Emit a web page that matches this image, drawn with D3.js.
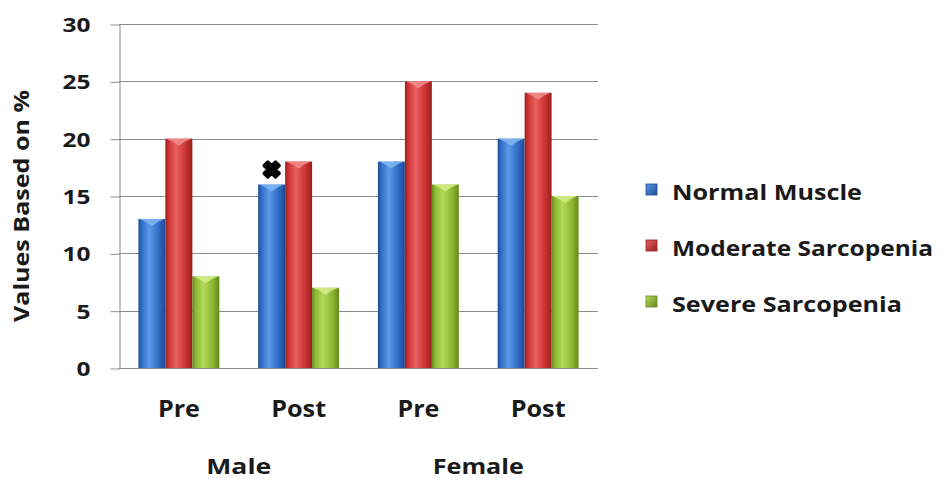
<!DOCTYPE html>
<html>
<head>
<meta charset="utf-8">
<script src="https://cdn.jsdelivr.net/npm/d3@7"></script>
<style>
  html, body { margin: 0; padding: 0; background: #fff; }
  svg { display: block; }
  text { font-family: "Open Sans", "Liberation Sans", sans-serif; font-weight: 700; fill: #1a1a1a; }
</style>
</head>
<body>
<svg id="chart" width="946" height="479"></svg>
<script>
// Chart data
const categories = ["Pre", "Post", "Pre", "Post"];
const groups = ["Male", "Female"];
const seriesNames = ["Normal Muscle", "Moderate Sarcopenia", "Severe Sarcopenia"];
const normalMuscle = [13, 16, 18, 20];
const moderateSarcopenia = [20, 18, 25, 24];
const severeSarcopenia = [8, 7, 16, 15];
const yTicks = [0, 5, 10, 15, 20, 25, 30];
const markedPoint = { series: 0, category: 1 }; // starred bar: Male / Post, Normal Muscle

const seriesValues = [normalMuscle, moderateSarcopenia, severeSarcopenia];
const colors = [
  { base: "#2f6cc4", light: "#5d9ae8", dark: "#1d4c94", cap: "#7fb4f4" },
  { base: "#cc3333", light: "#e86060", dark: "#962020", cap: "#f08a8a" },
  { base: "#8cb832", light: "#b2d95a", dark: "#66881e", cap: "#d2ec86" }
];

const svg = d3.select("#chart");
const plot = { left: 119, right: 598, top: 24, bottom: 368 };

const x0 = d3.scaleBand().domain(d3.range(categories.length))
  .range([plot.left, plot.right]).paddingInner(0).paddingOuter(0);
const x1 = d3.scaleBand().domain(d3.range(seriesNames.length))
  .range([0, x0.bandwidth()]).paddingInner(0).paddingOuter(0.72);
const y = d3.scaleLinear().domain([0, 30]).range([plot.bottom, plot.top]);

// Gradients for the rounded glossy bars
const defs = svg.append("defs");
colors.forEach((c, i) => {
  const g = defs.append("linearGradient").attr("id", "grad" + i)
    .attr("x1", "0%").attr("x2", "100%").attr("y1", "0%").attr("y2", "0%");
  g.append("stop").attr("offset", "0%").attr("stop-color", c.dark);
  g.append("stop").attr("offset", "12%").attr("stop-color", c.base);
  g.append("stop").attr("offset", "40%").attr("stop-color", c.light);
  g.append("stop").attr("offset", "75%").attr("stop-color", c.base);
  g.append("stop").attr("offset", "100%").attr("stop-color", c.dark);
  const lg = defs.append("linearGradient").attr("id", "lgrad" + i)
    .attr("x1", "0%").attr("x2", "100%").attr("y1", "0%").attr("y2", "100%");
  lg.append("stop").attr("offset", "0%").attr("stop-color", c.light);
  lg.append("stop").attr("offset", "100%").attr("stop-color", c.dark);
});

// Gridlines
svg.append("g").selectAll("line").data(yTicks.filter(d => d > 0)).join("line")
  .attr("x1", plot.left).attr("x2", plot.right)
  .attr("y1", d => Math.round(y(d)) + 0.5).attr("y2", d => Math.round(y(d)) + 0.5)
  .attr("stroke", "#8c8c8c").attr("stroke-width", 1);

// Y axis
const yAxis = svg.append("g").attr("transform", `translate(${plot.left + 0.5},0.5)`)
  .call(d3.axisLeft(y).tickValues(yTicks).tickSize(9).tickPadding(20).tickSizeOuter(0));
yAxis.select(".domain").attr("stroke", "#8c8c8c");
yAxis.selectAll(".tick line").attr("stroke", "#8c8c8c");
yAxis.selectAll(".tick text")
  .attr("font-size", 19).attr("fill", "#1a1a1a")
  .attr("dy", "0.36em")
  .attr("textLength", d => String(d).length * 14)
  .attr("lengthAdjust", "spacingAndGlyphs");

// Bars
const barData = [];
seriesValues.forEach((vals, s) => vals.forEach((v, c) => barData.push({ s, c, v })));

const bars = svg.append("g").selectAll("g").data(barData).join("g")
  .attr("transform", d => `translate(${x0(d.c) + x1(d.s)},0)`);
const bw = x1.bandwidth();
bars.append("rect")
  .attr("x", 0).attr("width", bw)
  .attr("y", d => y(d.v)).attr("height", d => y(0) - y(d.v))
  .attr("fill", d => `url(#grad${d.s})`);
// top cap with pointed highlight
bars.append("path")
  .attr("d", d => {
    const t = y(d.v);
    return `M1,${t} L${bw - 1},${t} L${bw * 0.72},${t + 3} L${bw / 2},${t + 7} L${bw * 0.28},${t + 3} Z`;
  })
  .attr("fill", d => colors[d.s].cap).attr("opacity", 0.9);

// X axis baseline
svg.append("line")
  .attr("x1", plot.left).attr("x2", plot.right)
  .attr("y1", y(0) + 0.5).attr("y2", y(0) + 0.5)
  .attr("stroke", "#8c8c8c");

// Star marker over the marked bar
svg.append("path")
  .attr("d", d3.symbol(d3.symbolCross, 150)())
  .attr("transform", `translate(${x0(markedPoint.category) + x1(markedPoint.series) + bw / 2},${y(seriesValues[markedPoint.series][markedPoint.category]) - 15}) rotate(45)`)
  .attr("fill", "#000")
  .attr("stroke", "#000").attr("stroke-width", 3).attr("stroke-linejoin", "round");

// Category labels
const catWidths = { "Pre": 42, "Post": 55 };
svg.append("g").selectAll("text").data(categories).join("text")
  .attr("x", (d, i) => x0(i) + x0.bandwidth() / 2)
  .attr("y", 417)
  .attr("text-anchor", "middle")
  .attr("font-size", 23)
  .attr("textLength", d => catWidths[d])
  .attr("lengthAdjust", "spacingAndGlyphs")
  .text(d => d);

// Group labels
const groupWidths = { "Male": 65, "Female": 91 };
svg.append("g").selectAll("text").data(groups).join("text")
  .attr("x", (d, i) => (x0(i * 2) + x0(i * 2 + 1) + x0.bandwidth()) / 2)
  .attr("y", 474)
  .attr("text-anchor", "middle")
  .attr("font-size", 22)
  .attr("textLength", d => groupWidths[d])
  .attr("lengthAdjust", "spacingAndGlyphs")
  .text(d => d);

// Y axis title
svg.append("text")
  .attr("transform", "translate(29,206) rotate(-90)")
  .attr("text-anchor", "middle")
  .attr("font-size", 21)
  .attr("textLength", 232)
  .attr("lengthAdjust", "spacingAndGlyphs")
  .text("Values Based on %");

// Legend
const legendWidths = [190, 261, 230];
const legend = svg.append("g").selectAll("g").data(seriesNames).join("g")
  .attr("transform", (d, i) => `translate(646,${200 + i * 56})`);
legend.append("rect")
  .attr("x", 0).attr("y", -16).attr("width", 11).attr("height", 11)
  .attr("fill", (d, i) => `url(#lgrad${i})`)
  .attr("stroke", (d, i) => colors[i].dark).attr("stroke-width", 0.8);
legend.append("text")
  .attr("x", 26).attr("y", 0)
  .attr("font-size", 21)
  .attr("textLength", (d, i) => legendWidths[i])
  .attr("lengthAdjust", "spacingAndGlyphs")
  .text(d => d);
</script>
</body>
</html>
